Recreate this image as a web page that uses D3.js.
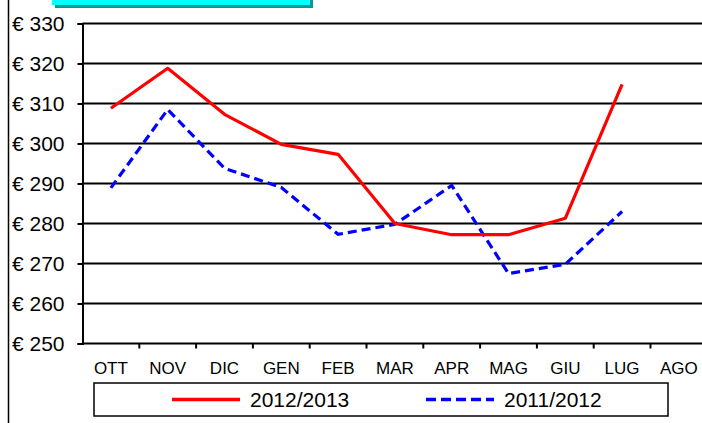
<!doctype html>
<html>
    <head>
        <meta charset="utf-8">
        <script src="https://cdn.jsdelivr.net/npm/d3@7/dist/d3.min.js" type="text/javascript"></script>
        <style>
            body{margin:0;background:#fff;}
            svg{display:block;font-family:"Liberation Sans",Arial,sans-serif;}
        </style>
    </head>
    <body>
        <svg id="chart"></svg>
        <script>
            var months=["OTT","NOV","DIC","GEN","FEB","MAR","APR","MAG","GIU","LUG","AGO"];
            var season1213=[308.8,318.8,307.3,299.8,297.3,280,277.2,277.2,281.3,314.8];
            var season1112=[288.9,308.5,293.8,289,277.3,279.8,289.5,267.5,269.8,283];
            var seriesNames=["2012/2013","2011/2012"];
            var yTicks=[250,260,270,280,290,300,310,320,330];

            var width=702,height=423;
            var plot={left:82.5,top:23.5,bottom:343.5,right:702};
            var x=d3.scaleBand().domain(months).range([plot.left,plot.left+months.length*56.8]);
            var y=d3.scaleLinear().domain([250,330]).range([plot.bottom,plot.top]);

            var chart=d3.select("#chart").attr("width",width).attr("height",height);

            // left border line
            chart.append("line").attr("x1",8.5).attr("x2",8.5).attr("y1",0).attr("y2",height)
                 .attr("stroke","#000").attr("stroke-width",1.5);

            // title box cut off at the top
            chart.append("rect").attr("x",55).attr("y",-10).attr("width",258).attr("height",18).attr("fill","#009a9a");
            chart.append("rect").attr("x",52).attr("y",-10).attr("width",258).attr("height",15).attr("fill","#00ffff");

            // gridlines
            chart.append("g").selectAll("line").data(yTicks).enter().append("line")
                 .attr("x1",plot.left).attr("x2",plot.right)
                 .attr("y1",d=>y(d)).attr("y2",d=>y(d))
                 .attr("stroke","#000").attr("stroke-width",2);

            var yaxis=d3.axisLeft(y).tickValues(yTicks).tickSize(5).tickPadding(13).tickFormat(d=>"€ "+d);
            var ya=chart.append("g").attr("transform","translate("+plot.left+",0)").call(yaxis);
            ya.select(".domain").attr("stroke","#000").attr("stroke-width",2);
            ya.selectAll(".tick line").attr("stroke","#000").attr("stroke-width",2);
            ya.selectAll(".tick text").attr("fill","#000").style("font-size","21px")
              .style("font-family","'Liberation Sans',Arial,sans-serif");

            var xaxis=d3.axisBottom(x).tickSize(0).tickPadding(18);
            var xa=chart.append("g").attr("transform","translate(0,"+plot.bottom+")").call(xaxis);
            xa.select(".domain").remove();
            xa.selectAll(".tick text").attr("fill","#000").style("font-size","17px")
              .style("font-family","'Liberation Sans',Arial,sans-serif");
            // month separators
            chart.append("g").selectAll("line").data(months).enter().append("line")
                 .attr("x1",d=>x(d)+x.bandwidth()).attr("x2",d=>x(d)+x.bandwidth())
                 .attr("y1",plot.bottom).attr("y2",plot.bottom+5)
                 .attr("stroke","#000").attr("stroke-width",2);

            var line=d3.line().x((d,i)=>x(months[i])+x.bandwidth()/2).y(d=>y(d));

            chart.append("path").datum(season1112).attr("d",line).attr("fill","none")
                 .attr("stroke","#0000ff").attr("stroke-width",3.2).attr("stroke-dasharray","9,5");
            chart.append("path").datum(season1213).attr("d",line).attr("fill","none")
                 .attr("stroke","#ff0000").attr("stroke-width",3.2).attr("stroke-linejoin","round");

            // legend
            var legend=chart.append("g");
            legend.append("rect").attr("x",94).attr("y",383).attr("width",574).attr("height",33)
                  .attr("fill","#fff").attr("stroke","#000").attr("stroke-width",1.5);
            var items=[{name:seriesNames[0],color:"#ff0000",dash:null,x:172},
                       {name:seriesNames[1],color:"#0000ff",dash:"10,5",x:426}];
            var li=legend.selectAll("g.item").data(items).enter().append("g").attr("class","item");
            li.append("line").attr("x1",d=>d.x).attr("x2",d=>d.x+68).attr("y1",399.5).attr("y2",399.5)
              .attr("stroke",d=>d.color).attr("stroke-width",3.5).attr("stroke-dasharray",d=>d.dash);
            li.append("text").attr("x",d=>d.x+78).attr("y",407).text(d=>d.name)
              .attr("fill","#000").style("font-size","21px");
        </script>
    </body>
</html>
